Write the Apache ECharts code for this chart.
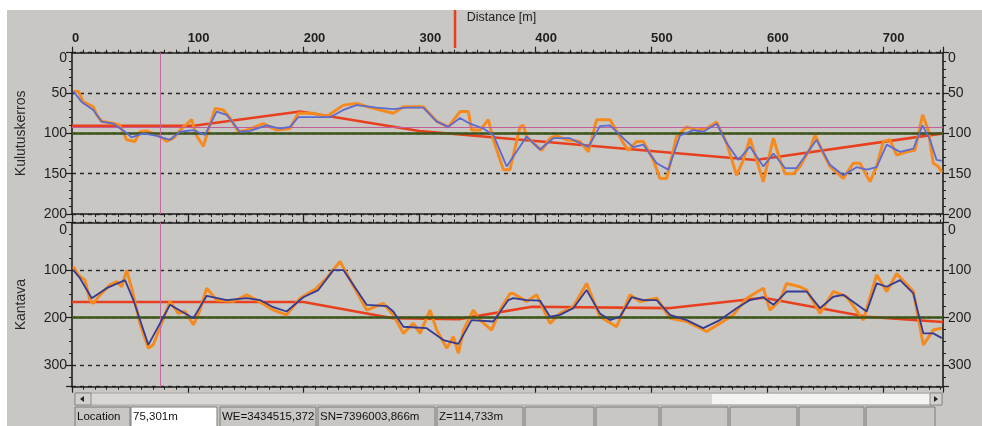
<!DOCTYPE html>
<html><head><meta charset="utf-8">
<script src="https://cdn.jsdelivr.net/npm/echarts@6/dist/echarts.min.js"></script>
<style>html,body{margin:0;padding:0;background:#fff}#c{width:982px;height:426px}</style>
</head><body><div id="c"></div>
<script>
// ---- data (distance [m], value) ----
const kulRaw = [[1,48],[5.5,48],[9.8,61],[18.4,67],[21.3,77],[25.6,85],[37.1,88],[41.4,90],[47.2,108],[54.4,110],[58.7,98],[64.5,97],[76,104],[81.7,110],[87.5,106],[93.2,96],[103.3,83],[107.6,103],[113.4,116],[117.7,96],[123.5,69],[130.7,71],[136.4,81],[143.6,98],[150.8,96],[165.2,88],[176.7,96],[188.2,94],[195.4,75],[208.4,75],[219.9,79],[234.3,65],[245.8,63],[260.2,69],[277.4,75],[286.1,67],[303.3,67],[314.9,85],[324.9,92],[335,73],[342.2,73],[345,96],[352.3,96],[359.5,83],[363.8,108],[372.4,145],[378.1,145],[386.8,92],[389.6,90],[392.5,104],[398.3,112],[405.5,121],[412.7,106],[418.4,103],[427.1,108],[438.6,110],[445.8,123],[453,83],[464.5,83],[476,112],[480.3,121],[487.5,110],[493.3,110],[501.9,133],[507.6,156],[513.4,156],[522,104],[530.7,92],[539.3,96],[547.9,94],[556.6,86],[565.2,112],[573.8,152],[579.6,133],[585.4,106],[591.1,133],[596.9,160],[601.2,133],[605.5,106],[611.3,133],[615.6,150],[622.8,150],[628.5,141],[637.2,119],[641.5,102],[648.7,125],[654.4,141],[665.9,156],[674.6,137],[680.3,137],[689,160],[694.7,141],[700.5,110],[706.2,108],[712,127],[720.6,123],[727.8,121],[734.4,77],[739.3,96],[743.6,137],[747.9,141],[751,148]];
const kulSmooth = [[1.2,48],[8.3,61],[18.4,71],[25.6,85.5],[35.7,88],[45.8,98],[51.5,105],[61.6,100],[73.1,103],[84.6,108],[93.2,98],[104.8,96],[114.8,102],[124.9,73],[133.5,77],[145,98],[153.7,97],[168.1,90],[179.6,94],[188.2,92],[195.4,80],[222.8,80],[234.3,71],[245.8,65],[263,68],[277.4,70],[288.9,68],[303.3,68],[314.9,85.5],[324.9,92],[335,81],[343.6,88],[355.1,94],[363.8,102],[375.3,141],[392.5,104],[404,120],[415.5,106],[429.9,106],[445.8,117],[455.8,91],[464.5,90],[478.9,110],[484.6,117],[493.3,114],[504.8,137],[514.8,145],[524.9,103],[536.4,96],[545,98],[556.6,88],[565.2,112],[575.3,133],[585.4,116.5],[596.9,141],[605.5,125],[615.6,143],[625.6,143],[642.9,108],[654.4,139],[665.9,152],[677.4,142],[686.1,145],[694.7,142],[703.4,114],[714.9,123],[726.4,119],[734.4,90],[740.8,108],[746.5,133],[751,134]];
const kulTrend = [[0,90.5],[105,90.5],[197,73],[300,97],[590,133],[752,100]];
const kulTarget = 100;
const kulLevel = 93;

const kanRaw = [[1.2,93],[5.5,110],[11.2,121],[15.5,163],[18.4,170],[24.2,152],[32.8,131],[38.6,124],[42.9,135],[47.2,100],[51.5,138],[58.7,212],[65.9,264],[70.2,257],[84.6,166],[91.8,191],[97.6,187],[104.8,215],[110.5,184],[116.3,138],[124.9,163],[139.3,166],[150.8,152],[159.4,163],[173.8,184],[185.3,194],[196.9,159],[211.2,138],[219.9,117],[231.4,82],[237.1,107],[254.4,184],[268.8,170],[277.4,194],[286.1,233],[294.7,212],[300.5,233],[309.1,184],[314.9,226],[323.5,264],[329.3,240],[333.6,275],[338,226],[346.5,184],[352.3,205],[362.3,226],[369.5,184],[378.2,149],[381,149],[392.5,166],[401.2,152],[412.7,212],[421.3,191],[432.8,177],[444.3,128],[455.8,198],[470.2,219],[481.7,152],[490.4,166],[504.8,159],[516.3,201],[530.7,208],[547.9,229],[559.4,212],[571,194],[582.5,159],[596.9,138],[602.6,184],[611.3,163],[617,128],[628.5,135],[634.3,142],[645.8,191],[657.3,145],[668.8,156],[683.2,205],[694.7,110],[703.4,145],[712,107],[726.4,145],[735,257],[743.6,226],[751,222]];
const kanSmooth = [[1.2,100],[6.9,117],[17,159],[29.9,138],[45.8,121],[53,163],[65.9,257],[84.6,173],[104.8,201],[116.3,154],[133.5,163],[150.8,159],[162.3,163],[173.8,178],[185.3,187],[199.7,157],[212.7,142],[225.6,100],[234.3,100],[254.4,173],[271.7,175.5],[277.4,187],[286.1,219],[306.2,222],[320.6,247],[333.6,255],[345,205],[363.8,208],[376.7,163],[381,159],[392.5,163],[404,164],[412.7,198],[421.3,194],[432.8,180],[444.3,142],[455.8,191],[464.5,205],[473.1,198],[483.2,157],[493.3,163],[504.8,163],[516.3,194],[530.7,205],[545,222],[559.4,205],[573.8,180],[585.4,163],[596.9,157],[605.5,173],[617,145],[634.3,145],[645.8,180],[657.3,156],[665.9,152],[686.1,187],[694.7,128],[703.4,135],[714.9,121],[726.4,149],[735,233],[743.6,233],[751,243]];
const kanTrend = [[0,167],[200,167],[277,201],[334,203],[397,177],[515,180],[597,158],[686,198],[752,209]];
const kanTarget = 200;

const distMax = 752;
const cursorD = 76;
const markerD = 330.7;
const statusTexts = ['Location', '75,301m', 'WE=3434515,372', 'SN=7396003,866m', 'Z=114,733m'];

// ---- chart ----
const FONT = 'Liberation Sans, Arial, sans-serif';
const DARK = '#1e1e1e';
const chart = echarts.init(document.getElementById('c'), null, {renderer: 'canvas'});

function xAx(grid, pos, showLabel) {
  return {
    type: 'value', gridIndex: grid, position: pos, min: 0, max: distMax, interval: 100,
    axisLine: {onZero: false, lineStyle: {color: DARK, width: 1.6}},
    axisTick: {show: true, length: 6, lineStyle: {color: DARK, width: 1.2}},
    minorTick: {show: true, splitNumber: 10, length: 3, lineStyle: {color: DARK, width: 1}},
    splitLine: {show: false},
    axisLabel: {
      show: showLabel, align: 'left', margin: 8, fontFamily: FONT, fontSize: 13, fontWeight: 'bold', color: DARK,
      formatter: v => (v % 100 === 0 ? String(v) : '')
    },
    name: showLabel ? 'Distance [m]' : '',
    nameLocation: 'middle', nameGap: 29,
    nameTextStyle: {fontFamily: FONT, fontSize: 12.5, color: DARK, padding: [0, 12, 0, 0]}
  };
}
function yAx(grid, pos, max, interval, minor, name, split, zeroShift) {
  return {
    type: 'value', gridIndex: grid, position: pos, inverse: true, min: 0, max: max, interval: interval,
    axisLine: {onZero: false, lineStyle: {color: DARK, width: 1.6}},
    axisTick: {show: true, length: 6, lineStyle: {color: DARK, width: 1.2}},
    minorTick: {show: true, splitNumber: minor, length: 3, lineStyle: {color: DARK, width: 1}},
    splitLine: {show: split, lineStyle: {color: '#262626', width: 1.4, type: [4, 4]}},
    axisLabel: {
      margin: 5, fontFamily: FONT, fontSize: 14, color: DARK,
      formatter: v => (v === 0 ? '{z|0}' : (v % interval === 0 ? String(v) : '')),
      rich: {z: {fontFamily: FONT, fontSize: 14, color: DARK, padding: [zeroShift * 2, 0, 0, 0]}}
    },
    name: name, nameLocation: 'middle', nameGap: 44, nameRotate: 90,
    nameTextStyle: {fontFamily: FONT, fontSize: 14, color: '#2a2a2a'}
  };
}
function lineS(x, y, data, color, width, z) {
  return {type: 'line', xAxisIndex: x, yAxisIndex: y, data: data, showSymbol: false, symbol: 'none',
    lineStyle: {color: color, width: width}, z: z, silent: true, animation: false};
}
function mLine(items) {
  return {silent: true, symbol: 'none', animation: false, label: {show: false}, data: items};
}

const topTrend = lineS(0, 0, kulTrend, '#e8401e', 2.6, 3);
topTrend.markLine = mLine([
  {yAxis: kulTarget, lineStyle: {color: '#3c5519', width: 2.6, type: 'solid'}},
  {yAxis: kulLevel, lineStyle: {color: '#c0609a', width: 1, type: 'solid'}},
  {xAxis: cursorD, lineStyle: {color: '#c46a9c', width: 1, type: 'solid'}}
]);
const botTrend = lineS(2, 2, kanTrend, '#e8401e', 2.6, 3);
botTrend.markLine = mLine([
  {yAxis: kanTarget, lineStyle: {color: '#3c5519', width: 2.6, type: 'solid'}},
  {xAxis: cursorD, lineStyle: {color: '#c46a9c', width: 1, type: 'solid'}}
]);

// status bar graphics
const gfx = [];
gfx.push({type: 'rect', z: -10, silent: true, shape: {x: 7, y: 10, width: 975, height: 416}, style: {fill: '#c9c7c4'}});
// scrollbar
gfx.push({type: 'rect', silent: true, shape: {x: 75, y: 393, width: 867, height: 12}, style: {fill: '#d9d7d4', stroke: '#a8a6a3', lineWidth: 1}});
gfx.push({type: 'rect', silent: true, shape: {x: 712, y: 394, width: 218, height: 10}, style: {fill: '#f4f4f3'}});
gfx.push({type: 'rect', silent: true, shape: {x: 75, y: 393, width: 16, height: 12}, style: {fill: '#d2d0cd', stroke: '#8c8a88', lineWidth: 1}});
gfx.push({type: 'rect', silent: true, shape: {x: 930, y: 393, width: 12, height: 12}, style: {fill: '#d2d0cd', stroke: '#8c8a88', lineWidth: 1}});
gfx.push({type: 'polygon', silent: true, shape: {points: [[80, 399], [84, 396], [84, 402]]}, style: {fill: '#222'}});
gfx.push({type: 'polygon', silent: true, shape: {points: [[938, 399], [934, 396], [934, 402]]}, style: {fill: '#222'}});
// status panels
const boxes = [[75, 55, '#c9c7c4'], [131, 86, '#ffffff'], [220, 96, '#c9c7c4'], [318, 117, '#c9c7c4'], [437, 86, '#c9c7c4'],
  [525, 69, '#c9c7c4'], [596, 63, '#c9c7c4'], [661, 67, '#c9c7c4'], [730, 67, '#c9c7c4'], [799, 65, '#c9c7c4'], [866, 69, '#c9c7c4']];
boxes.forEach((b, i) => {
  gfx.push({type: 'rect', silent: true, shape: {x: b[0], y: 407, width: b[1], height: 22}, style: {fill: b[2], stroke: '#7d7b79', lineWidth: 1}});
  if (i < statusTexts.length) {
    gfx.push({type: 'text', silent: true, x: b[0] + 2, y: 417,
      style: {text: statusTexts[i], fontFamily: FONT, fontSize: 11.5, fill: '#111', verticalAlign: 'middle', width: b[1] - 2, overflow: 'truncate', ellipsis: ''}});
  }
});

chart.setOption({
  animation: false,
  backgroundColor: '#ffffff',
  grid: [
    {left: 72, right: 39, top: 52.7, height: 161.3},
    {left: 72, right: 39, top: 222.5, height: 164.2}
  ],
  xAxis: [xAx(0, 'top', true), xAx(0, 'bottom', false), xAx(1, 'top', false), xAx(1, 'bottom', false)],
  yAxis: [
    yAx(0, 'left', 200, 50, 5, 'Kulutuskerros', true, 5),
    yAx(0, 'right', 200, 50, 5, '', false, 5),
    yAx(1, 'left', 345, 100, 4, 'Kantava', true, 7.5),
    yAx(1, 'right', 345, 100, 4, '', false, 7.5)
  ],
  graphic: gfx,
  series: [
    topTrend,
    lineS(0, 0, kulRaw, '#f58a1f', 3, 4),
    lineS(0, 0, kulSmooth, '#5b6bd2', 1.8, 5),
    botTrend,
    lineS(2, 2, kanRaw, '#f58a1f', 3, 4),
    lineS(2, 2, kanSmooth, '#333b94', 1.8, 5)
  ]
});

const mx = chart.convertToPixel({xAxisIndex: 0}, markerD);
chart.setOption({graphic: gfx.concat([
  {type: 'line', silent: true, z: 10, shape: {x1: mx, y1: 10, x2: mx, y2: 48}, style: {stroke: '#e8401e', lineWidth: 2.5}}
])});
</script></body></html>
